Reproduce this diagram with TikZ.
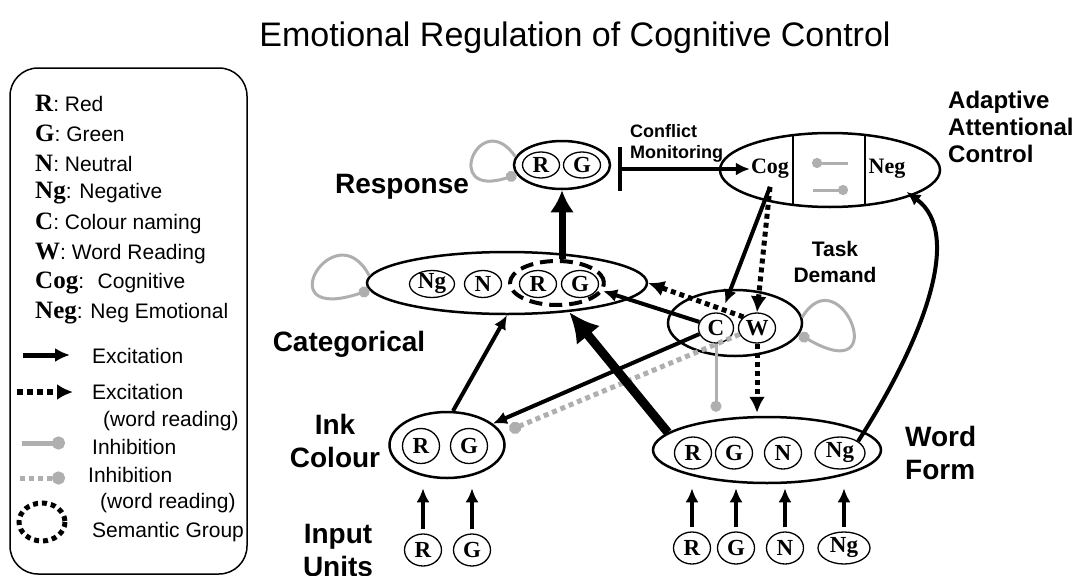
\documentclass[tikz,border=0pt]{standalone}
\usepackage{fontspec}
\setmainfont{Liberation Serif}
\setsansfont{Liberation Sans}
\usetikzlibrary{shapes.geometric,arrows.meta}
\definecolor{inhgray}{RGB}{175,175,175}
\newcommand{\keyl}[1]{{\rmfamily\bfseries\fontsize{25}{25}\selectfont #1}}
\tikzset{
  layer/.style={ellipse, draw, line width=2.5pt, inner sep=0pt},
  unit/.style={ellipse, draw, line width=1.3pt, inner sep=-3pt, minimum width=37pt, minimum height=30pt, font=\rmfamily\bfseries\fontsize{23}{23}\selectfont},
  unitlbl/.style={inner sep=1pt, font=\rmfamily\bfseries\fontsize{22}{22}\selectfont},
  lbl/.style={inner sep=0pt, align=center, font=\sffamily\bfseries\fontsize{28}{33}\selectfont},
  keytxt/.style={anchor=west, inner sep=0pt, font=\sffamily\fontsize{21}{25}\selectfont},
  exc/.style={line width=4pt, -{Latex[length=14pt,width=13pt]}},
  excw/.style={line width=5pt, dash pattern=on 5pt off 4pt, -{Latex[length=16pt,width=16pt]}},
  inh/.style={line width=3pt, draw=inhgray, -{Circle[length=11pt]}},
  inhw/.style={line width=5pt, draw=inhgray, dash pattern=on 5pt off 4pt, -{Circle[length=12pt]}},
  semgrp/.style={ellipse, draw, line width=4pt, dash pattern=on 13pt off 7pt, inner sep=0pt},
}
\begin{document}
\begin{tikzpicture}[x=1pt, y=-1pt]
\useasboundingbox (0,0) rectangle (1080,576);
\node[font=\sffamily\fontsize{34}{40}\selectfont] (title) at (575,38) {Emotional Regulation of Cognitive Control};

% key
\draw[line width=1.5pt, rounded corners=28pt] (10,68) rectangle (247,574);
\foreach \k/\t [count=\i] in {R/Red, G/Green, N/Neutral, Ng/Negative, C/Colour naming, W/Word Reading, Cog/{\ Cognitive}, Neg/Neg Emotional}
  \node[keytxt] (key\i) at (35,73+30*\i) {\keyl{\k}: \t};
\draw[line width=5pt, -{Latex[length=15pt,width=14pt]}] (23,355) -- (70,355); %excitation
\draw[line width=6pt, dash pattern=on 6pt off 4pt, -{Latex[length=16pt,width=16pt]}] (17,392) -- (73,392);
\draw[line width=5pt, draw=inhgray, -{Circle[length=13pt]}] (22,443) -- (65,443); %inhibition
\draw[line width=5pt, draw=inhgray, dash pattern=on 5pt off 4pt, -{Circle[length=13pt]}] (20,478) -- (65,478);
\draw[line width=5pt, dash pattern=on 5pt off 4pt] (42,522) ellipse [x radius=23, y radius=19]; %semantic group
\node[keytxt] (kexc) at (92,356) {Excitation};
\node[keytxt] (kexcw) at (92,392) {Excitation};
\node[keytxt] (kexcw2) at (103,421) {(word reading)};
\node[keytxt] (kinh) at (92,447) {Inhibition};
\node[keytxt] (kinhw) at (88,475) {Inhibition};
\node[keytxt] (kinhw2) at (100,503) {(word reading)};
\node[keytxt] (ksem) at (92,532) {Semantic Group};

% response
\node[layer, minimum width=96pt, minimum height=48pt] (resp) at (562,165) {};
\node[unit, minimum height=26pt] (rr) at (541,165) {R};
\node[unit, minimum height=26pt] (rg) at (582,165) {G};
\node[lbl] (lresp) at (402,187) {Response};

% categorical
\node[layer, minimum width=280pt, minimum height=62pt] (cat) at (507,283) {};
\node[unit, minimum width=45pt, minimum height=27pt] (cng) at (432,284) {Ng};
\node[unit, minimum height=27pt] (cn) at (483,284) {N};
\node[unit, minimum height=27pt] (cr) at (538,284) {R};
\node[unit, minimum height=27pt] (cg) at (580,284) {G};
\node[semgrp, minimum width=94pt, minimum height=44pt] (sem) at (557,283) {};
\node[lbl] (lcat) at (349,344) {Categorical};

% adaptive attentional control
\node[layer, minimum width=220pt, minimum height=74pt, path picture={
  \draw[line width=2.5pt] ([xshift=-37pt]path picture bounding box.north) -- ([xshift=-37pt]path picture bounding box.south);
  \draw[line width=2.5pt] ([xshift=35pt]path picture bounding box.north) -- ([xshift=35pt]path picture bounding box.south);
}] (aac) at (830,170) {};
\node[unitlbl] (cog) at (770,169) {Cog};
\node[unitlbl] (neg) at (887,169) {Neg};
\draw[inh, -{Circle[length=10pt]}] (848,163) -- (812,163);
\draw[inh, -{Circle[length=10pt]}] (813,190) -- (848,190);
\node[lbl, anchor=west, align=left, font=\sffamily\bfseries\fontsize{24}{27}\selectfont] (laac) at (948,127) {Adaptive\\Attentional\\Control};
\node[lbl, anchor=west, align=left, font=\sffamily\bfseries\fontsize{18}{21}\selectfont] (lcm) at (630,143) {Conflict\\Monitoring};

% task demand
\node[layer, minimum width=134pt, minimum height=66pt] (td) at (735,323) {};
\node[unit, minimum width=35pt] (c) at (716,328) {C};
\node[unit] (w) at (757,328) {W};
\node[lbl, font=\sffamily\bfseries\fontsize{21}{26}\selectfont] (ltd) at (835,262) {Task\\Demand};

% ink colour and word form
\node[layer, minimum width=115pt, minimum height=66pt] (ink) at (447,445) {};
\node[unit, minimum height=35pt] (kr) at (421,446) {R};
\node[unit, minimum height=35pt] (kg) at (469,446) {G};
\node[lbl] (link) at (335,441) {Ink\\Colour};
\node[layer, minimum width=228pt, minimum height=66pt] (wf) at (767,450) {};
\node[unit, minimum height=32pt] (wr) at (693,453) {R};
\node[unit, minimum height=32pt] (wg) at (734,453) {G};
\node[unit, minimum height=32pt] (wn) at (783,453) {N};
\node[unit, minimum width=50pt, minimum height=32pt] (wng) at (840,453) {Ng};
\node[lbl, anchor=west, align=left] (lwf) at (905,453) {Word\\Form};

% input units
\node[unit, minimum height=32pt] (inr) at (423,550) {R};
\node[unit, minimum height=32pt] (ing) at (472,550) {G};
\node[unit, minimum height=32pt] (winr) at (692,548) {R};
\node[unit, minimum height=32pt] (wing) at (736,548) {G};
\node[unit, minimum height=32pt] (winn) at (785,548) {N};
\node[unit, minimum width=52pt, minimum height=32pt] (winng) at (844,548) {Ng};
\node[lbl] (lin) at (338,550) {Input\\Units};

% connections
\foreach \u/\l/\s in {inr/ink/9pt, ing/ink/9pt, winr/wf/4pt, wing/wf/4pt, winn/wf/4pt, winng/wf/4pt}
  \draw[exc, shorten <=4pt, shorten >=\s] (\u.north) -- (\u.north |- \l.south);
\draw[inh] (resp.170) .. controls (480,105) and (440,200) .. (resp.192); %self inhibition
\draw[inh] (cat.177) .. controls (335,210) and (265,325) .. (cat.183);
\draw[inh] (td.5) .. controls (840,255) and (895,390) .. (td.350);
\draw[line width=4pt, {Bar[width=44pt]}-{Latex[length=14pt,width=13pt]}] ([xshift=7pt]resp.east |- cog.west) -- (cog.west); %conflict
\draw[line width=7pt, -{Latex[length=22pt,width=24pt]}] (resp.south |- sem.north) -- (resp.south);
\draw[exc, shorten >=10pt] ([yshift=-7pt]cog.south) -- (c.70);
\draw[excw] ([yshift=-7pt]cog.south) -- (w.north);
\draw[excw] (w.north west) -- (cat.east);
\draw[exc] (c.160) -- (sem.350);
\draw[exc] (c.200) -- (ink.25);
\draw[inhw, shorten >=8pt] (w.200) -- (ink.12);
\draw[inh, shorten >=4pt] (c.south) -- (c.south |- wf.north);
\draw[excw, shorten >=3pt] (w.south) -- (w.south |- wf.north);
\draw[exc] (ink.80) -- (cat.south);
\draw[line width=9pt, -{Latex[length=30pt,width=30pt]}] (wf.170) -- (cat.335);
\draw[exc] (wng.north east) .. controls (920,345) and (965,235) .. ([yshift=-12pt]neg.south east);
\end{tikzpicture}
\end{document}
